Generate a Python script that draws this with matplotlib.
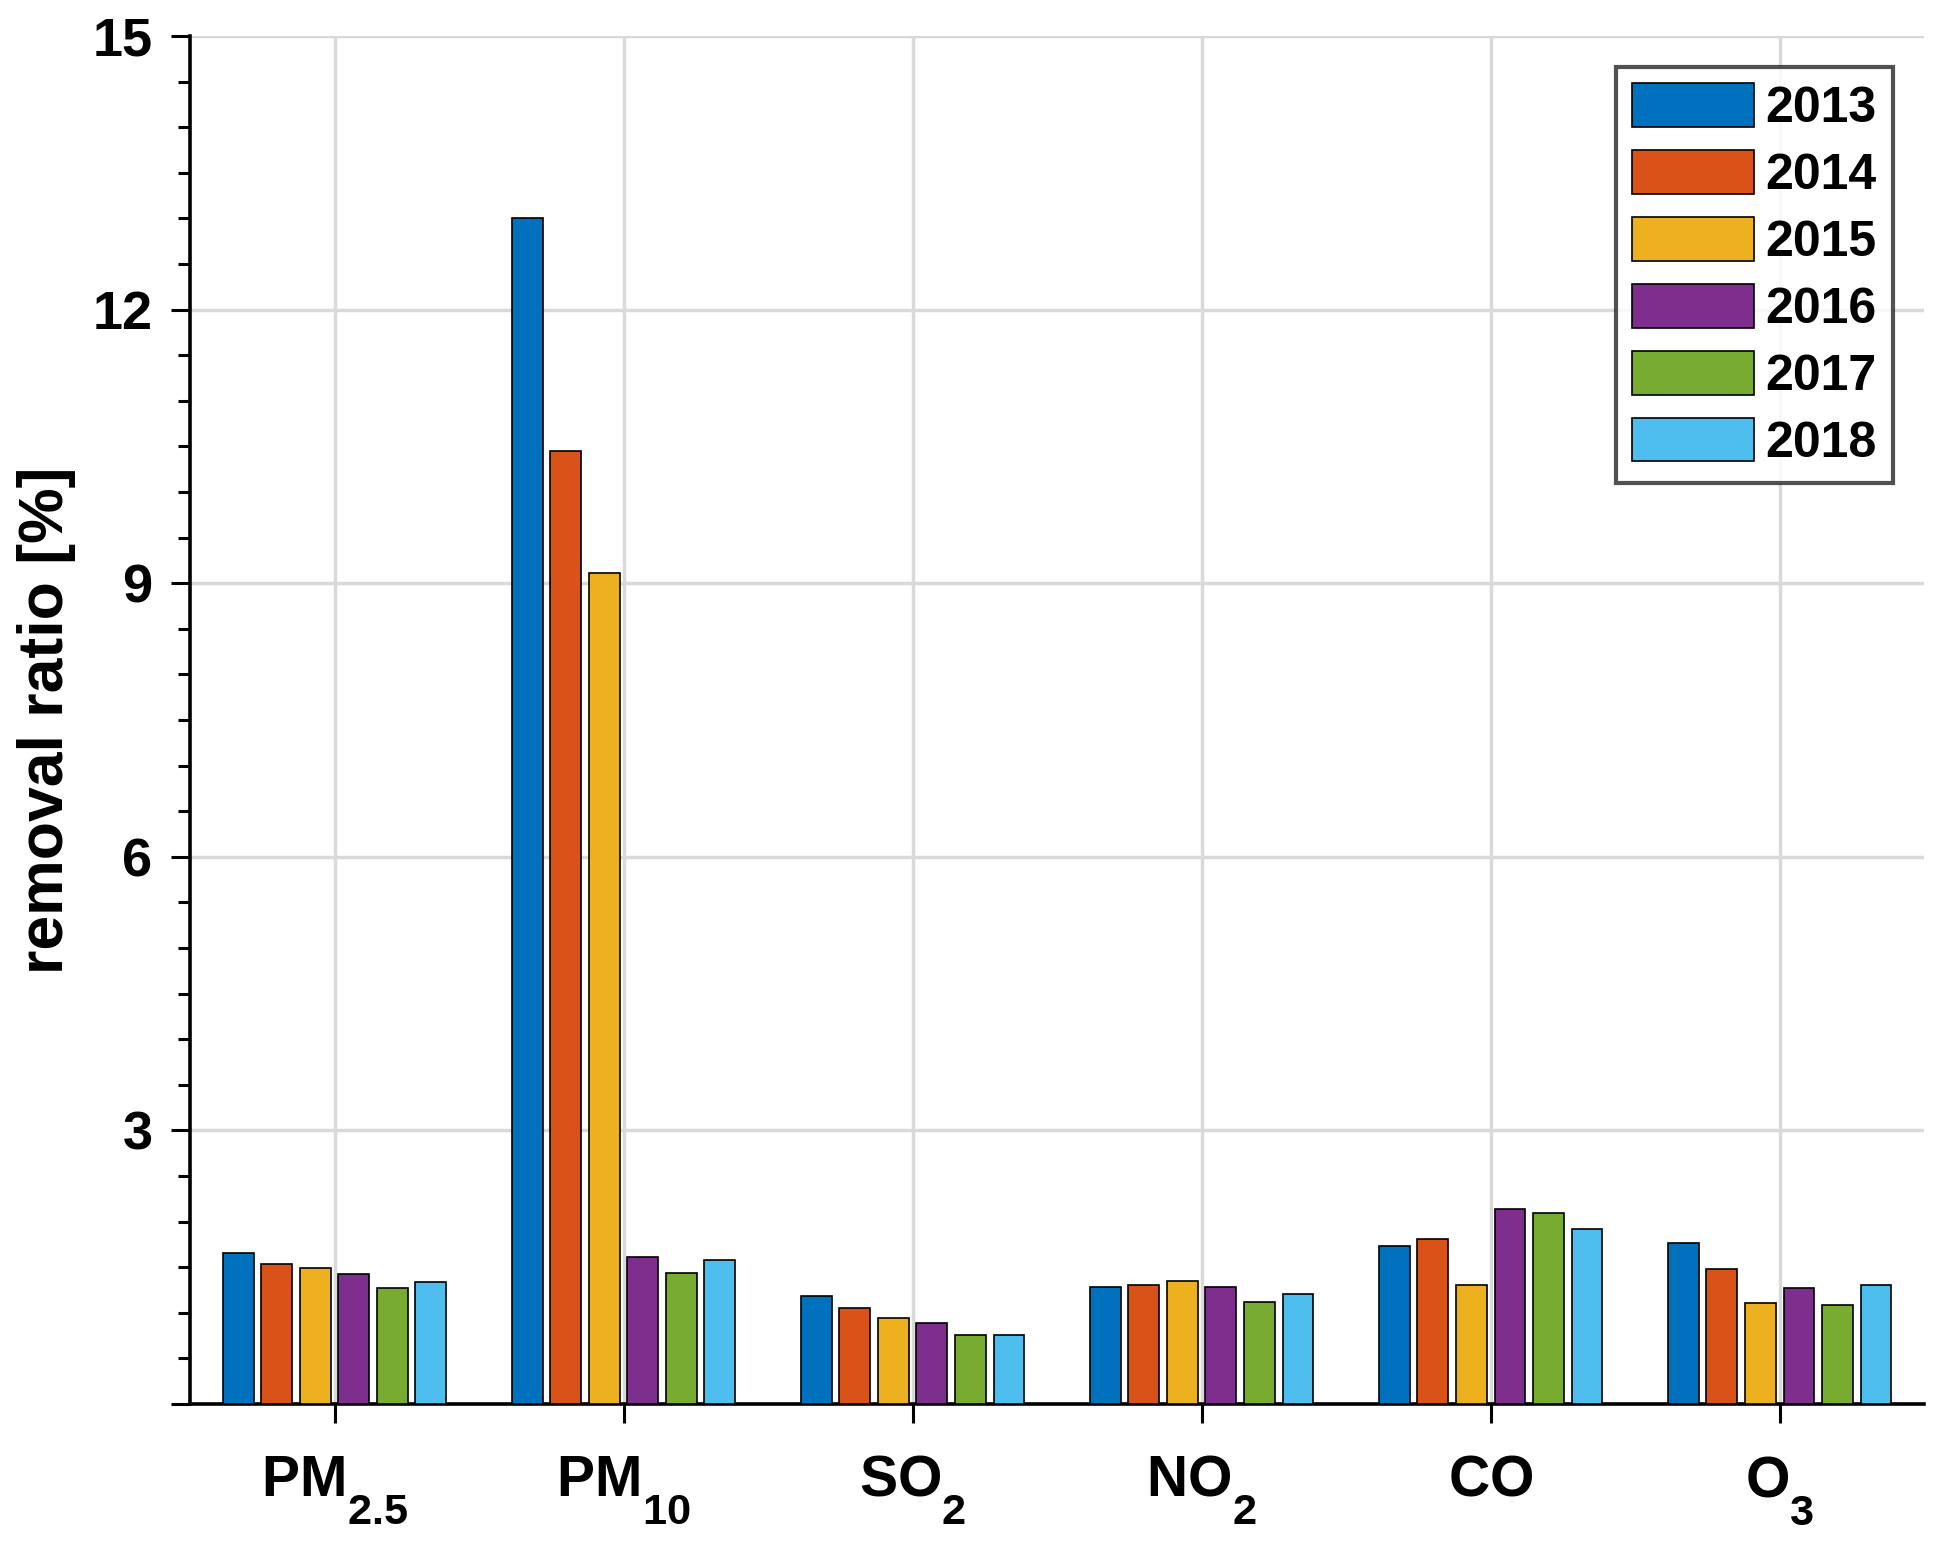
import numpy as np
import matplotlib
matplotlib.use("Agg")
import matplotlib.pyplot as plt
import matplotlib._mathtext as mathtext_internal

plt.rcParams['font.family'] = ['Liberation Sans', 'DejaVu Sans']
plt.rcParams['font.weight'] = 'bold'
plt.rcParams['mathtext.fontset'] = 'custom'
plt.rcParams['mathtext.rm'] = 'Liberation Sans:bold'
plt.rcParams['mathtext.it'] = 'Liberation Sans:bold'
plt.rcParams['mathtext.bf'] = 'Liberation Sans:bold'
# subscrito maior e mais baixo, como no original
mathtext_internal.FontConstantsBase.sub1 = 0.95
mathtext_internal.FontConstantsBase.subdrop = 0.95
mathtext_internal.SHRINK_FACTOR = 0.76

# dados
pollutants = [r'$\mathrm{PM}_{2.5}$', r'$\mathrm{PM}_{10}$', r'$\mathrm{SO}_{2}$',
              r'$\mathrm{NO}_{2}$', r'$\mathrm{CO}$', r'$\mathrm{O}_{3}$']
years = ['2013', '2014', '2015', '2016', '2017', '2018']
colors = ['#0072BD', '#D95319', '#EDB120', '#7E2F8E', '#77AC30', '#4DBEEE']

r2013 = [1.66, 13.00, 1.18, 1.28, 1.73, 1.76]
r2014 = [1.54, 10.45, 1.05, 1.30, 1.81, 1.48]
r2015 = [1.49, 9.11, 0.94, 1.35, 1.30, 1.11]
r2016 = [1.42, 1.61, 0.89, 1.28, 2.14, 1.27]
r2017 = [1.27, 1.44, 0.76, 1.12, 2.09, 1.09]
r2018 = [1.34, 1.58, 0.76, 1.21, 1.92, 1.30]
series = [r2013, r2014, r2015, r2016, r2017, r2018]

fig = plt.figure(figsize=(19.45, 15.43), dpi=100)
ax = fig.add_axes([0.0977, 0.0901, 0.8916, 0.8866])

x = np.arange(1, len(pollutants) + 1)
step = 0.8 / len(years)
for i, (vals, yr, c) in enumerate(zip(series, years, colors)):
    ax.bar(x + (i - 2.5) * step, vals, width=step * 0.8, color=c,
           edgecolor='black', linewidth=1.2, label=yr, zorder=3)

ax.set_xlim(0.5, 6.5)
ax.set_ylim(0, 15)
ax.set_xticks(x)
ax.set_xticklabels(pollutants, fontsize=41)
ax.set_yticks(np.arange(0, 16, 3))
ax.set_yticklabels(['', '3', '6', '9', '12', '15'], fontsize=39)
ax.set_yticks(np.arange(0, 15.1, 0.5), minor=True)
ax.tick_params(axis='both', direction='out', width=2.2, length=14, color='black')
ax.tick_params(axis='x', pad=22)
ax.tick_params(axis='y', pad=13)
ax.tick_params(axis='y', which='minor', direction='out', width=2.2, length=8.5)
ax.set_ylabel('removal ratio [%]', fontsize=45, fontweight='bold')
ax.yaxis.set_label_coords(-0.066, 0.5)

ax.grid(True, which='major', color='#d9d9d9', linewidth=2.5, zorder=0)
ax.set_axisbelow(True)
for s in ['top', 'right']:
    ax.spines[s].set_visible(False)
for s in ['left', 'bottom']:
    ax.spines[s].set_linewidth(2.6)

leg = ax.legend(loc='upper right', fontsize=36, frameon=True, fancybox=False,
                borderaxespad=0.62, handlelength=2.44, handleheight=0.96,
                labelspacing=0.36, handletextpad=0.22, borderpad=0.33)
leg.get_frame().set_edgecolor('#262626')
leg.get_frame().set_linewidth(3)

fig.savefig('out.png', dpi=100)
